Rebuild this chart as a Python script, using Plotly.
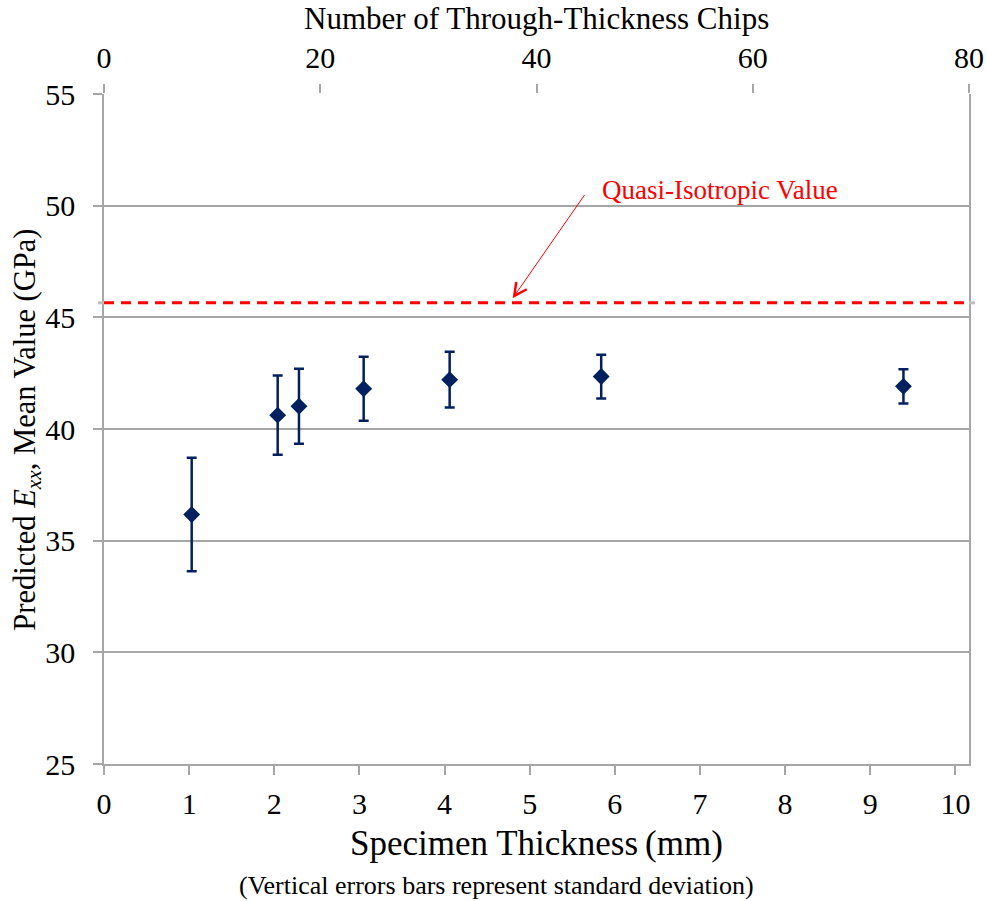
import plotly.graph_objects as go

# Data
thickness_mm = [1.03, 2.04, 2.29, 3.05, 4.06, 5.84, 9.39]
exx_mean = [36.17, 40.62, 41.02, 41.80, 42.21, 42.35, 41.91]
exx_std = [2.54, 1.77, 1.68, 1.43, 1.25, 0.98, 0.77]
quasi_iso_value = 45.65
x_range = [0, 10.16]
x_ticks = list(range(0, 11))
chips_range = [0, 80]
chips_ticks = [0, 20, 40, 60, 80]
y_ticks = [25, 30, 35, 40, 45, 50, 55]

FONT = "Liberation Serif"
GRID = "#A6A6A6"
NAVY = "#002060"

fig = go.Figure()

# Quasi-isotropic reference line
fig.add_trace(go.Scatter(
    x=x_range, y=[quasi_iso_value, quasi_iso_value], mode="lines",
    line=dict(color="#FF0000", width=3, dash="10px,7px"),
    hoverinfo="skip", showlegend=False))

# Data with error bars
fig.add_trace(go.Scatter(
    x=thickness_mm, y=exx_mean, mode="markers",
    marker=dict(symbol="diamond", size=13, color=NAVY),
    error_y=dict(type="data", array=exx_std, visible=True,
                 color=NAVY, thickness=2.5, width=5),
    showlegend=False))

# Invisible trace to activate the top axis
fig.add_trace(go.Scatter(
    x=chips_range, y=[quasi_iso_value, quasi_iso_value], xaxis="x2",
    mode="markers", marker=dict(opacity=0), hoverinfo="skip", showlegend=False))

tick_common = dict(ticks="outside", ticklen=9, tickcolor=GRID, tickwidth=1.5,
                   tickfont=dict(family=FONT, size=30, color="black"), automargin=False)

fig.update_layout(
    width=987, height=901,
    margin=dict(l=104, r=18, t=94, b=137),
    plot_bgcolor="white", paper_bgcolor="white",
    font=dict(family=FONT, size=30, color="black"),
    xaxis=dict(
        range=x_range, tickvals=x_ticks,
        showgrid=False, zeroline=False,
        showline=True, linecolor=GRID, linewidth=1.5,
        ticklabelstandoff=3, **tick_common,
    ),
    xaxis2=dict(
        range=chips_range, tickvals=chips_ticks, overlaying="x", side="top",
        showgrid=False, zeroline=False, showline=False,
        ticklabelstandoff=4, **tick_common,
    ),
    yaxis=dict(
        range=[25, 55], tickvals=y_ticks,
        showgrid=True, gridcolor=GRID, gridwidth=1.5,
        zeroline=False, showline=True, linecolor=GRID, linewidth=1.5, mirror=True,
        ticklabelstandoff=12, **tick_common,
    ),
    annotations=[
        dict(x=4.80, y=45.85, xref="x", yref="y", ax=73, ay=-105,
             axref="pixel", ayref="pixel", text="", showarrow=True,
             arrowhead=5, arrowsize=2.5, arrowwidth=1, arrowcolor="#FF0000", standoff=0),
        dict(x=5.82, y=50.7, xref="x", yref="y", text="Quasi-Isotropic Value",
             showarrow=False, xanchor="left", yanchor="middle",
             font=dict(family=FONT, size=27, color="#FF0000")),
        dict(x=0.5, y=1.1134, xref="paper", yref="paper",
             text="Number of Through-Thickness Chips",
             showarrow=False, xanchor="center", yanchor="middle",
             font=dict(family=FONT, size=31, color="black")),
        dict(x=0.5, y=-0.119, xref="paper", yref="paper",
             text="Specimen Thickness\u2009(mm)",
             showarrow=False, xanchor="center", yanchor="middle",
             font=dict(family=FONT, size=35, color="black")),
        dict(x=0.4536, y=-0.1816, xref="paper", yref="paper",
             text="(Vertical errors bars represent standard deviation)",
             showarrow=False, xanchor="center", yanchor="middle",
             font=dict(family=FONT, size=26, color="black")),
        dict(x=-0.0893, y=0.4987, xref="paper", yref="paper", textangle=-90,
             text="Predicted <i>E</i><sub><i>xx</i></sub>, Mean Value (GPa)",
             showarrow=False, xanchor="center", yanchor="middle",
             font=dict(family=FONT, size=30.5, color="black")),
    ],
    shapes=[
        dict(type="line", xref="paper", yref="y", x0=-0.007, x1=0, y0=quasi_iso_value,
             y1=quasi_iso_value, line=dict(color="#BFBFBF", width=3)),
        dict(type="line", xref="paper", yref="y", x0=1, x1=1.007, y0=quasi_iso_value,
             y1=quasi_iso_value, line=dict(color="#BFBFBF", width=3)),
    ],
)

fig.write_html("out.html")
